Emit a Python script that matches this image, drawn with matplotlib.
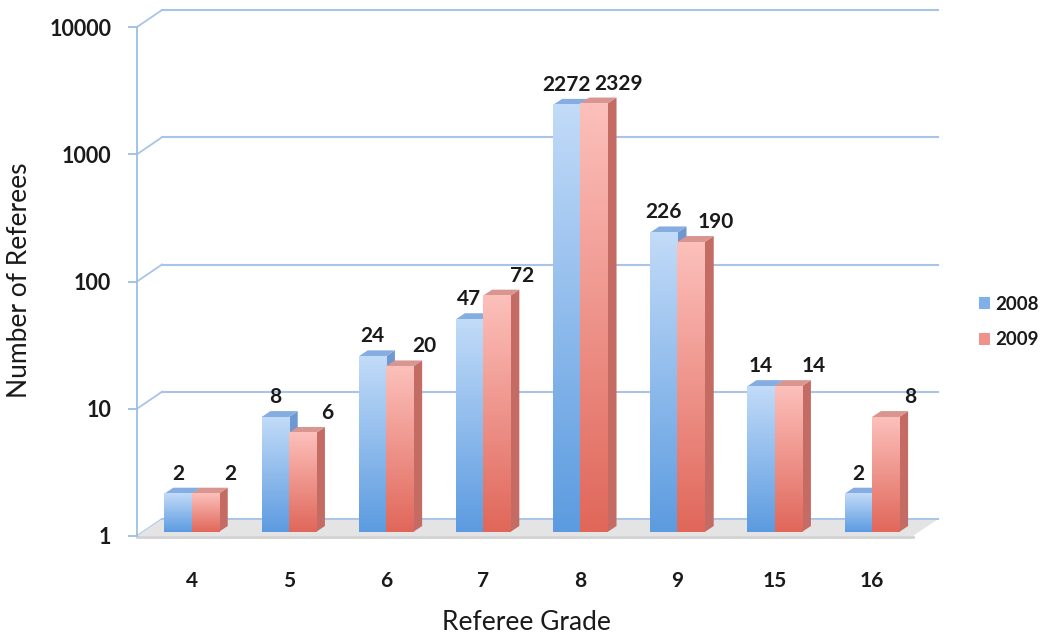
import matplotlib
matplotlib.use("Agg")
import matplotlib.pyplot as plt
import numpy as np
from matplotlib.patches import Polygon, Patch
from matplotlib.lines import Line2D
from matplotlib.transforms import IdentityTransform
from matplotlib.ticker import NullLocator
from matplotlib.colors import to_rgb

# ---------------- data ----------------
grades = ["4", "5", "6", "7", "8", "9", "15", "16"]
referees_2008 = [2, 8, 24, 47, 2272, 226, 14, 2]
referees_2009 = [2, 6, 20, 72, 2329, 190, 14, 8]
series_names = ["2008", "2009"]
yticks = [1, 10, 100, 1000, 10000]
ytick_labels = ["1", "10", "100", "1000", "10000"]

# ---------------- style ----------------
W, H = 1042, 639
FONT = "Lato"
GRID = "#a9c4e8"
AXIS = "#9dbde6"
TXT = "#1a1a1a"
DEPTH_WALL = (25, 17)   # pixel offset of back wall
DEPTH_BAR = (9, 6)      # pixel offset of bar depth
BAR_LIFT = 4            # bars sit a little behind the front edge
BW = 0.28               # bar width (data units)
LABEL_SHIFT = [0, 25]   # horizontal nudge of value labels per series (px)

blue = dict(top="#c2dbf8", bot="#5c9be0", side="#6f98d0", cap="#86ade2")
red = dict(top="#fcc0bb", bot="#e0675a", side="#c46b63", cap="#d99590")
styles = [blue, red]
legend_cols = ["#7fb0ea", "#f0928a"]

fig = plt.figure(figsize=(W / 100, H / 100), dpi=100)
ax = fig.add_axes([137 / W, (H - 536) / H, 776 / W, 509 / H])
ax.set_autoscale_on(False)
ax.set_yscale("log")
ax.set_xlim(-0.561, 7.423)
ax.set_ylim(1, 10000)

for s in ["top", "right", "bottom"]:
    ax.spines[s].set_visible(False)
ax.spines["left"].set_color(AXIS)
ax.spines["left"].set_linewidth(1.3)
ax.set_yticks(yticks, ytick_labels)
ax.yaxis.set_minor_locator(NullLocator())
ax.tick_params(axis="y", colors=AXIS, length=6.5, width=1.3, pad=12,
               labelcolor=TXT, labelsize=15.5)
ax.set_xticks(range(len(grades)), grades)
ax.tick_params(axis="x", length=0, pad=25, labelcolor=TXT, labelsize=15)
for lab in ax.get_xticklabels() + ax.get_yticklabels():
    lab.set_fontfamily(FONT)
    lab.set_fontweight("bold")

ID = IdentityTransform()


def disp(x, y):
    return ax.transData.transform((x, y))


x_lo, x_hi = ax.get_xlim()

# ---------------- back wall grid & diagonals ----------------
for v in yticks:
    a = disp(x_lo, v)
    b = disp(x_hi, v)
    dx, dy = DEPTH_WALL
    ax.add_line(Line2D([a[0] + dx, b[0] + dx], [a[1] + dy, b[1] + dy],
                       transform=ID, color=GRID, lw=1.5, clip_on=False, zorder=1))
    ax.add_line(Line2D([a[0], a[0] + dx], [a[1], a[1] + dy],
                       transform=ID, color=GRID, lw=1.3, clip_on=False, zorder=1))

# ---------------- floor ----------------
fl = disp(x_lo, 1)
fr = disp(x_hi, 1)
dx, dy = DEPTH_WALL
floor = Polygon([(fl[0], fl[1]), (fr[0], fr[1]), (fr[0] + dx, fr[1] + dy),
                 (fl[0] + dx, fl[1] + dy)], closed=True, transform=ID,
                facecolor="#e4e4e4", edgecolor="none", clip_on=False, zorder=2)
ax.add_patch(floor)
ax.add_line(Line2D([fl[0] + dx, fr[0] + dx], [fl[1] + dy, fr[1] + dy], transform=ID,
                   color=GRID, lw=1.3, clip_on=False, zorder=2.1))
ax.add_line(Line2D([fl[0], fr[0]], [fl[1] - 1, fr[1] - 1], transform=ID,
                   color="#d2d2d2", lw=2, clip_on=False, zorder=2.05))


def gradient(c_top, c_bot, n=128):
    t = np.linspace(0, 1, n)[:, None, None]
    a = np.array(to_rgb(c_top))[None, None, :]
    b = np.array(to_rgb(c_bot))[None, None, :]
    return a * (1 - t) + b * t


# ---------------- bars ----------------
z = 3
for k in range(len(grades)):
    for si, vals in enumerate([referees_2008, referees_2009]):
        st = styles[si]
        v = vals[k]
        x0 = k - BW + si * BW
        x1 = x0 + BW
        p0 = disp(x0, 1)
        p1 = disp(x1, v)
        l, r = p0[0], p1[0]
        b, t = p0[1] + BAR_LIFT, p1[1] + BAR_LIFT
        ddx, ddy = DEPTH_BAR
        # side face
        ax.add_patch(Polygon([(r, b), (r, t), (r + ddx, t + ddy), (r + ddx, b + ddy)],
                             closed=True, transform=ID, facecolor=st["side"],
                             edgecolor="none", clip_on=False, zorder=z))
        # top face
        ax.add_patch(Polygon([(l, t), (r, t), (r + ddx, t + ddy), (l + ddx, t + ddy)],
                             closed=True, transform=ID, facecolor=st["cap"],
                             edgecolor="none", clip_on=False, zorder=z))
        # front face with vertical gradient
        ax.imshow(gradient(st["top"], st["bot"]), extent=(l, r, b, t), origin="upper",
                  transform=ID, aspect="auto", interpolation="bilinear",
                  clip_on=False, zorder=z + 0.1)
        # value label
        cx = (l + r) / 2 + LABEL_SHIFT[si]
        ax.text(cx, t + 20, str(v), transform=ID, ha="center", va="center",
                fontsize=15, fontweight="bold", family=FONT, color=TXT,
                clip_on=False, zorder=10)
        z += 0.2

ax.set_xlim(x_lo, x_hi)
ax.set_ylim(1, 10000)

# ---------------- axis titles ----------------
fig.text(20 / W, 1 - 280 / H, "Number of Referees", rotation=90, ha="center",
         va="center", fontsize=19, family=FONT, color=TXT)
fig.text(526 / W, 1 - 622 / H, "Referee Grade", ha="center", va="center",
         fontsize=19, family=FONT, color=TXT)

# ---------------- legend ----------------
handles = [Patch(facecolor=c, edgecolor="none") for c in legend_cols]
fig.legend(handles, series_names, loc="center left",
           bbox_to_anchor=(962 / W, 1 - 322 / H), frameon=False,
           handlelength=0.6, handleheight=0.6, handletextpad=0.3,
           labelspacing=1.0, prop={"family": FONT, "weight": "bold", "size": 13.5},
           labelcolor=TXT)

fig.savefig("out.png", dpi=100)
